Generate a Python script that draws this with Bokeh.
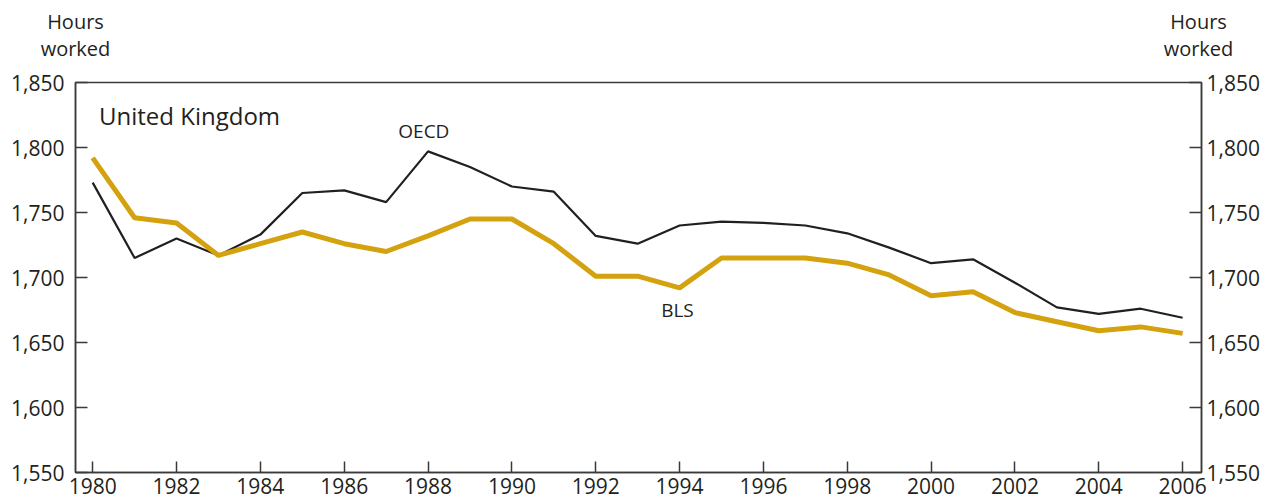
from bokeh.plotting import figure
from bokeh.models import LinearAxis, Range1d, FixedTicker, Label, CustomJSTickFormatter, NumeralTickFormatter
from bokeh.embed import file_html
from bokeh.resources import INLINE

years = list(range(1980, 2007))
oecd = [1773, 1715, 1730, 1717, 1733, 1765, 1767, 1758, 1797, 1785, 1770, 1766, 1732, 1726,
        1740, 1743, 1742, 1740, 1734, 1723, 1711, 1714, 1696, 1677, 1672, 1676, 1669]
bls = [1792, 1746, 1742, 1717, 1726, 1735, 1726, 1720, 1732, 1745, 1745, 1726, 1701, 1701,
       1692, 1715, 1715, 1715, 1711, 1702, 1686, 1689, 1673, 1666, 1659, 1662, 1657]
y_ticks = [1550, 1600, 1650, 1700, 1750, 1800, 1850]
x_ticks = list(range(1980, 2007, 2))
unit_label = "Hours\nworked"

FONT = "Open Sans"
AX = "#3a3a3a"
TXT = "#231f20"
GOLD = "#d4a20e"

p = figure(width=1263, height=504, output_backend="svg", toolbar_location=None,
           x_range=Range1d(1979.59, 2006.45), y_range=Range1d(1550, 1850),
           min_border_left=75, min_border_right=62, min_border_top=82, min_border_bottom=32)
p.grid.visible = False
p.outline_line_color = AX
p.outline_line_width = 1.5
p.background_fill_color = "white"
p.border_fill_color = "white"

p.line(years, oecd, line_color=TXT, line_width=2.2)
p.line(years, bls, line_color=GOLD, line_width=5)

def style(ax):
    ax.axis_line_color = AX
    ax.axis_line_width = 1.5
    ax.major_tick_line_color = AX
    ax.major_tick_line_width = 1.5
    ax.minor_tick_line_color = None
    ax.major_label_text_font = FONT
    ax.major_label_text_font_size = "21px"
    ax.major_label_text_color = TXT

p.xaxis.ticker = FixedTicker(ticks=x_ticks)
p.xaxis.formatter = CustomJSTickFormatter(code="return tick.toFixed(0);")
p.xaxis.major_tick_in = 11
p.xaxis.major_tick_out = 0
p.xaxis.major_label_standoff = 5
style(p.xaxis[0])

p.yaxis.ticker = FixedTicker(ticks=y_ticks)
p.yaxis.formatter = NumeralTickFormatter(format="0,0")
p.yaxis.major_tick_in = 12
p.yaxis.major_tick_out = 0
p.yaxis.major_label_standoff = 11
style(p.yaxis[0])

ry = LinearAxis(ticker=FixedTicker(ticks=y_ticks), formatter=NumeralTickFormatter(format="0,0"))
ry.major_tick_in = 12
ry.major_tick_out = 0
ry.major_label_standoff = 5
style(ry)
p.add_layout(ry, "right")

# top "axis" used only to carry the two unit labels above the plot corners
p.extra_x_ranges = {"top": Range1d(0, 1126)}
top = LinearAxis(x_range_name="top", ticker=FixedTicker(ticks=[0.01, 1123]),
                 major_label_overrides={0.01: unit_label, 1123: unit_label})
style(top)
top.axis_line_color = None
top.major_tick_line_color = None
top.major_tick_in = 0
top.major_tick_out = 0
top.major_label_standoff = 21
top.major_label_text_font_size = "20px"
top.major_label_text_line_height = 0.97
p.add_layout(top, "above")

def lab(x, y, t, size, align="center"):
    p.add_layout(Label(x=x, y=y, text=t, text_font=FONT, text_font_size=size,
                       text_color=TXT, text_align=align, text_baseline="middle"))

lab(1980.15, 1825, "United Kingdom", "24px", "left")
lab(1987.9, 1813, "OECD", "19px")
lab(1993.95, 1675, "BLS", "19px")

open("out.html", "w").write(file_html(p, INLINE))
